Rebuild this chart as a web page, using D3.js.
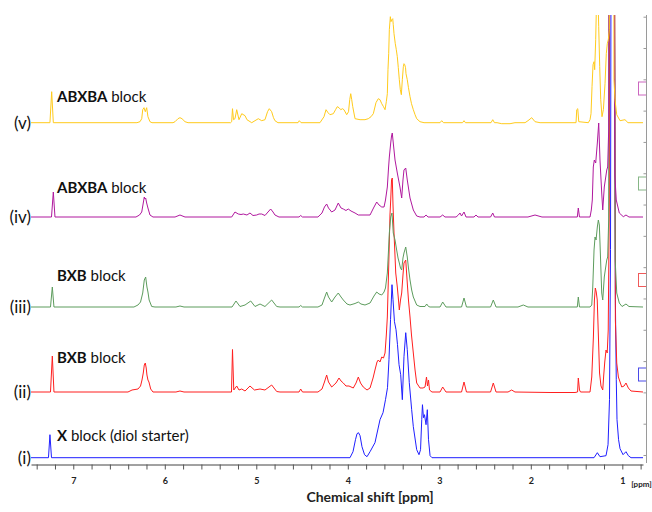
<!DOCTYPE html>
<html>
<head>
<meta charset="utf-8">
<script src="https://cdn.jsdelivr.net/npm/d3@7"></script>
<style>
  body { margin: 0; background: #fff; }
  text { font-family: Lato, "Open Sans", sans-serif; }
</style>
</head>
<body>
<svg id="chart" width="652" height="512"></svg>
<script>
// 1H NMR traces, [chemical shift (ppm), intensity (a.u.)]

// (i) X block (diol starter)
const specX = [
  [7.462,0],[7.271,0],[7.255,23],[7.238,0],
  [3.976,0],[3.943,6],[3.916,18],[3.899,24],[3.883,25],[3.866,22],[3.845,11],[3.817,3],[3.790,1],[3.757,6],
  [3.703,15],[3.648,38],[3.615,45],[3.588,58],[3.566,70],[3.550,98],[3.533,138],[3.517,173],[3.506,158],
  [3.490,136],[3.473,128],[3.457,113],[3.440,93],[3.422,83],[3.404,58],[3.386,101],[3.367,125],[3.350,108],
  [3.328,75],[3.302,48],[3.284,31],[3.247,8],[3.222,3],[3.205,8],[3.192,38],[3.184,53],[3.173,40],[3.162,43],
  [3.145,33],[3.131,48],[3.118,18],[3.101,2],[3.080,0],
  [1.309,0],[1.273,5],[1.244,1],[1.178,2],[1.156,13],[1.140,58],[1.129,208],[1.120,700],[1.094,700],
  [1.076,158],[1.066,78],[1.058,38],[1.041,18],[1.025,9],[0.992,3],[0.960,6],[0.934,2],[0.905,0],[0.774,0]
];

// (ii) BXB block
const specBXB1 = [
  [7.462,0],[7.249,0],[7.229,36],[7.211,0],
  [6.402,0],[6.358,2],[6.293,3],[6.265,6],[6.249,12],[6.235,19],[6.224,27],[6.213,29],[6.203,24],[6.195,17],
  [6.184,12],[6.173,10],[6.154,3],[6.129,0],
  [5.878,0],[5.834,1],[5.790,0],
  [5.271,0],[5.260,42.5],[5.246,2],[5.214,6],[5.189,2],[5.159,3],[5.123,1],[5.069,6],[5.020,2],[4.959,3],
  [4.905,2],[4.832,7],[4.777,0.5],[4.741,0],
  [4.533,0],[4.515,3],[4.495,0],
  [4.326,0],[4.282,3],[4.255,10],[4.231,17],[4.211,10],[4.176,5],[4.129,9],[4.096,14],[4.074,11],[4.049,9],
  [4.020,6],[3.987,6],[3.940,4],[3.910,9],[3.885,15],[3.861,9],[3.831,5],[3.790,2],[3.757,4],[3.724,14],
  [3.703,22],[3.681,30],[3.667,32],[3.648,30],[3.629,35],[3.610,34],[3.593,39],[3.579,57],[3.568,75],
  [3.553,125],[3.539,177],[3.531,192],[3.522,212],[3.514,214],[3.506,187],[3.495,159],[3.476,119],[3.459,105],
  [3.446,92],[3.437,82],[3.424,92],[3.411,99],[3.397,117],[3.386,129],[3.367,132],[3.350,109],[3.337,92],
  [3.320,75],[3.304,57],[3.284,39],[3.265,22],[3.247,9],[3.211,4],[3.178,4],[3.156,5],[3.140,15],[3.129,6],
  [3.118,12],[3.107,2],[3.080,0],
  [2.992,0],[2.963,5],[2.927,0],
  [2.757,0],[2.730,10],[2.703,0],
  [2.440,0],[2.410,9],[2.380,0],
  [2.249,0],[2.209,2],[2.173,0],
  [1.790,-0.5],[1.517,-0.5],[1.489,0],[1.481,14],[1.468,2],[1.457,0],
  [1.353,0],[1.334,15],[1.316,55],[1.305,92],[1.295,104],[1.285,100],[1.274,92],[1.260,52],[1.249,19],
  [1.233,6],[1.214,2],[1.203,17],[1.192,30],[1.178,42],[1.165,39],[1.154,62],[1.142,192],[1.132,900],
  [1.094,900],[1.076,72],[1.061,29],[1.043,15],[1.006,5],[0.981,6],[0.960,9],[0.934,4],[0.905,1],[0.774,0]
];

// (iii) BXB block
const specBXB2 = [
  [7.462,0],[7.249,0],[7.229,20],[7.211,0],
  [6.337,0],[6.293,2],[6.265,5],[6.241,14],[6.224,27],[6.209,30],[6.195,20],[6.184,15],[6.171,7],[6.143,0.5],
  [6.107,0],
  [5.878,0],[5.834,1],[5.790,0],
  [5.265,0],[5.222,6],[5.178,0.5],[5.123,2],[5.061,6],[5.014,0.5],[4.959,3],[4.905,0.5],[4.832,7],[4.777,0.5],
  [4.741,0],
  [4.533,0],[4.515,1.5],[4.495,0],
  [4.326,0],[4.282,2],[4.255,9],[4.231,15],[4.211,10],[4.176,5],[4.140,10],[4.104,14],[4.074,10],[4.049,7],
  [4.009,3],[3.976,2],[3.921,3.5],[3.885,5],[3.856,3],[3.812,2],[3.757,4],[3.714,11],[3.684,15],[3.659,13],
  [3.629,12],[3.604,15],[3.588,19],[3.568,34],[3.555,57],[3.546,74],[3.531,90],[3.517,94],[3.503,74],
  [3.484,67],[3.466,57],[3.451,49],[3.437,44],[3.424,39],[3.411,37],[3.397,49],[3.386,54],[3.367,60],
  [3.350,50],[3.337,39],[3.320,27],[3.302,17],[3.284,10],[3.247,2],[3.211,0.5],[3.156,0.5],[3.138,3],
  [3.118,0.5],[3.101,0],
  [2.992,0],[2.963,5],[2.927,0],
  [2.757,0],[2.730,9],[2.703,0],
  [2.440,0],[2.410,7],[2.380,0],
  [2.140,0],[2.082,2],[2.031,0],
  [1.492,0],[1.481,10],[1.468,0],
  [1.353,0],[1.334,2],[1.323,20],[1.309,57],[1.298,70],[1.287,67],[1.273,80],[1.262,87],[1.251,82],
  [1.240,54],[1.225,14],[1.214,7],[1.197,30],[1.183,39],[1.170,47],[1.160,50],[1.149,87],[1.136,900],
  [1.098,900],[1.078,47],[1.061,14],[1.033,4],[1.003,0.5],[0.960,3],[0.927,0.5],[0.774,0]
];

// (iv) ABXBA block
const specABXBA1 = [
  [7.462,0],[7.238,0],[7.218,25],[7.200,0],
  [6.315,0],[6.276,2],[6.252,5],[6.235,14],[6.224,20],[6.216,18],[6.209,19],[6.198,14],[6.184,9],[6.162,2],
  [6.129,0],
  [5.888,0],[5.834,2],[5.779,0],
  [5.269,0],[5.233,5],[5.197,3],[5.167,2.5],[5.142,3],[5.102,2],[5.069,4],[5.036,1.5],[4.996,2],[4.970,3],
  [4.941,3],[4.905,1.5],[4.872,5],[4.843,8],[4.817,5],[4.796,2],[4.752,0],
  [4.533,0],[4.515,1.5],[4.495,0],
  [4.326,0],[4.282,4],[4.255,10],[4.231,13],[4.211,9],[4.176,5],[4.140,7],[4.104,14],[4.074,9],[4.049,8],
  [4.020,6.5],[3.995,8],[3.965,6],[3.921,4],[3.885,2],[3.823,2],[3.757,2],[3.719,9],[3.684,15],[3.659,12],
  [3.629,10],[3.604,10],[3.588,17],[3.568,30],[3.555,49],[3.546,60],[3.531,74],[3.522,81],[3.514,84],
  [3.503,74],[3.484,57],[3.459,44],[3.430,30],[3.411,19],[3.397,37],[3.386,47],[3.367,49],[3.350,37],
  [3.320,19],[3.284,7],[3.247,1],[3.211,0],
  [3.167,0],[3.145,2],[3.123,0],
  [2.992,0],[2.963,2],[2.938,0],
  [2.817,0],[2.792,2],[2.774,4],[2.757,1],[2.730,5],[2.708,0],
  [2.621,0],[2.599,2],[2.577,0],
  [2.440,0],[2.416,4],[2.397,0],
  [2.031,0],[1.954,2],[1.878,0],
  [1.492,0],[1.481,9],[1.468,0],
  [1.353,0],[1.339,7],[1.328,17],[1.317,50],[1.306,57],[1.291,54],[1.273,74],[1.258,94],[1.244,57],
  [1.225,24],[1.214,7],[1.197,30],[1.170,47],[1.160,50],[1.149,87],[1.140,900],
  [1.104,900],[1.082,42],[1.066,17],[1.033,4],[0.989,0.3],[0.960,2],[0.927,0],[0.774,0]
];

// (v) ABXBA block
const specABXBA2 = [
  [7.462,0],[7.255,0],[7.236,31],[7.218,0],
  [6.304,0],[6.271,1],[6.252,4],[6.241,13],[6.227,15],[6.213,11],[6.198,15],[6.184,6],[6.162,1],[6.140,0],
  [5.910,0],[5.888,1],[5.856,4],[5.834,5],[5.812,4],[5.779,1],[5.746,0],
  [5.280,0],[5.269,1],[5.260,14],[5.249,3],[5.233,4],[5.214,13],[5.189,3],[5.159,9],[5.123,7],[5.102,3],
  [5.050,0],[5.014,2],[4.978,4],[4.941,2],[4.905,3],[4.877,11],[4.858,14],[4.832,11],[4.812,5],[4.796,2],
  [4.763,0],
  [4.544,0],[4.530,2],[4.511,0],
  [4.304,0],[4.260,6],[4.238,13],[4.216,10],[4.195,8],[4.158,9],[4.134,13],[4.115,16],[4.096,15],[4.077,13],
  [4.058,14],[4.042,13],[4.012,8],[3.992,11],[3.979,23],[3.968,29],[3.957,23],[3.946,16],[3.921,4],
  [3.866,3],[3.812,3],[3.776,4],[3.746,6],[3.721,9],[3.692,20],[3.667,24],[3.648,23],[3.629,19],[3.610,16],
  [3.593,13],[3.579,21],[3.568,29],[3.561,53],[3.553,69],[3.546,93],[3.535,106],[3.528,101],[3.520,103],
  [3.509,104],[3.503,98],[3.495,89],[3.481,79],[3.470,73],[3.459,66],[3.448,55],[3.437,43],[3.426,33],
  [3.415,28],[3.404,43],[3.393,56],[3.386,59],[3.378,58],[3.369,55],[3.364,49],[3.350,43],[3.337,35],
  [3.320,26],[3.304,19],[3.284,13],[3.265,8],[3.247,4],[3.211,1],[3.167,0],
  [2.992,0],[2.974,2],[2.954,0],
  [2.746,0],[2.730,2],[2.714,0],
  [2.435,0],[2.416,3],[2.397,0],
  [2.369,0],[2.318,-1],[2.227,-1],[2.173,0],
  [2.063,0],[2.031,2],[1.990,5],[1.954,1],[1.899,0],
  [1.506,0],[1.498,13],[1.487,14],[1.476,1],
  [1.371,0],[1.353,3],[1.342,9],[1.331,36],[1.320,58],[1.309,61],[1.302,53],[1.291,83],[1.280,130],
  [1.269,140],[1.258,96],[1.247,56],[1.236,23],[1.222,6],[1.207,13],[1.189,39],[1.175,69],[1.164,79],
  [1.153,83],[1.142,93],[1.134,900],[1.102,900],[1.091,43],[1.080,23],[1.061,8],[1.025,2],[0.971,3],
  [0.938,0],[0.774,0]
];

// stacking order, bottom to top
const series = [specX, specBXB1, specBXB2, specABXBA1, specABXBA2];
const offsets = [5.3, 71, 156, 246, 340.3];           // vertical offset of each trace (a.u.)
const colors = ["#1f1fff", "#ff1f1f", "#5d9c5d", "#b0189e", "#ffcb1c"];
const boxLevels = [88.5, 183, 279.5, 374.5];          // scaling-box centres (a.u.)
const boxColors = ["#4a4ae8", "#f05a5a", "#86b686", "#cc66c0"];
const romanLabels = ["(i)", "(ii)", "(iii)", "(iv)", "(v)"];
const blockBold = ["X", "BXB", "BXB", "ABXBA", "ABXBA"];
const blockRest = [" block (diol starter)", " block", " block", " block", " block"];
const labelLift = [22, 34, 31, 29, 26];               // label height above each baseline (a.u.)
const ppmLabels = [7, 6, 5, 4, 3, 2, 1];
const xTitle = "Chemical shift [ppm]";

const svg = d3.select("#chart");

const x = d3.scaleLinear().domain([7.462, 0.774]).range([31, 643]);
const y = d3.scaleLinear().domain([0, 450]).range([463, 13]);

svg.append("defs").append("clipPath").attr("id", "plotClip")
  .append("rect").attr("x", 31).attr("y", 15).attr("width", 615).attr("height", 449);

// spectra
const traces = svg.append("g").attr("clip-path", "url(#plotClip)");
series.forEach((s, i) => {
  const line = d3.line()
    .x(d => x(d[0]))
    .y(d => y(d[1] + offsets[i]));
  traces.append("path")
    .datum(s)
    .attr("d", line)
    .attr("fill", "none")
    .attr("stroke", colors[i])
    .attr("stroke-width", 1)
    .attr("stroke-linejoin", "round");
});

// trace labels
series.forEach((s, i) => {
  svg.append("text")
    .attr("x", 31)
    .attr("y", y(offsets[i]))
    .attr("dy", "0.35em")
    .attr("text-anchor", "end")
    .attr("font-size", 17)
    .attr("fill", "#111")
    .text(romanLabels[i]);
  const t = svg.append("text")
    .attr("x", 57)
    .attr("y", y(offsets[i] + labelLift[i]))
    .attr("dy", "0.35em")
    .attr("font-size", 15)
    .attr("fill", "#111");
  t.append("tspan").attr("font-weight", "bold").text(blockBold[i]);
  t.append("tspan").text(blockRest[i]);
});

// scaling boxes on the right
boxColors.forEach((c, i) => {
  const yc = y(boxLevels[i]);
  svg.append("rect")
    .attr("x", 638.5).attr("y", yc - 6.5)
    .attr("width", 8).attr("height", 13)
    .attr("fill", "none").attr("stroke", c).attr("stroke-width", 1);
});

// intensity axis (unlabelled)
const yi = d3.scaleLinear().domain([0, 14]).range([455, 16.7]);
svg.append("g")
  .attr("transform", "translate(646.5,0)")
  .call(d3.axisLeft(yi).ticks(14).tickSize(3).tickSizeOuter(0).tickFormat(""))
  .call(g => g.select(".domain").attr("stroke", "#9a9a9a").attr("d", "M0,15V463"))
  .call(g => g.selectAll(".tick line").attr("stroke", "#9a9a9a"));

// chemical shift axis
const minorTicks = d3.range(0, 34).map(k => +(7.4 - 0.2 * k).toFixed(1));
const xAxis = svg.append("g")
  .attr("transform", "translate(0,464.5)")
  .call(d3.axisBottom(x)
    .tickValues(minorTicks)
    .tickSize(5)
    .tickSizeOuter(0)
    .tickFormat(v => ppmLabels.includes(Math.round(v * 10) / 10) ? String(Math.round(v)) : ""));
xAxis.select(".domain").attr("stroke", "#444");
xAxis.selectAll(".tick line").attr("stroke", "#555");
xAxis.selectAll(".tick text")
  .attr("font-family", "'Liberation Sans Narrow', 'Liberation Sans', sans-serif")
  .attr("font-weight", "bold")
  .attr("font-size", 9)
  .attr("fill", "#222")
  .attr("dy", "1.3em");

svg.append("text")
  .attr("x", x(1) + 9).attr("y", 487)
  .attr("font-family", "'Liberation Sans Narrow', 'Liberation Sans', sans-serif")
  .attr("font-weight", "bold").attr("font-size", 8).attr("fill", "#222")
  .text("[ppm]");

svg.append("text")
  .attr("x", 370).attr("y", 502)
  .attr("text-anchor", "middle")
  .attr("font-weight", "bold")
  .attr("font-size", 14)
  .attr("fill", "#222")
  .text(xTitle);
</script>
</body>
</html>
